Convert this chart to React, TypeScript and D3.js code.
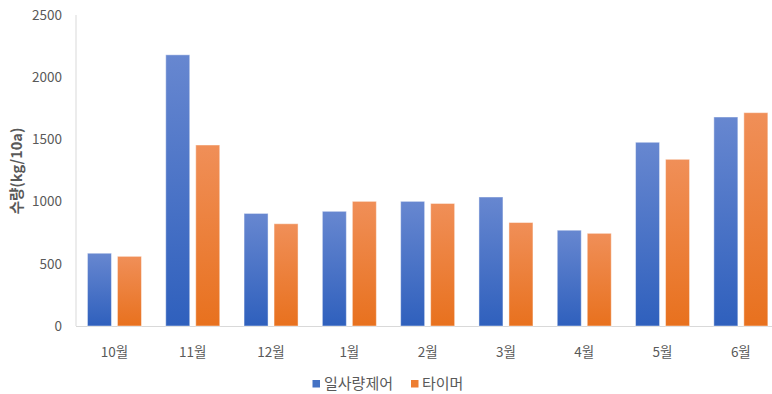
import React from "react";
import * as d3 from "d3";

const categories = ["10월", "11월", "12월", "1월", "2월", "3월", "4월", "5월", "6월"];
const seriesNames = ["일사량제어", "타이머"];
const solarValues = [585, 2180, 905, 922, 1002, 1037, 770, 1477, 1680];
const timerValues = [560, 1455, 822, 1002, 985, 832, 745, 1340, 1715];
const yTicks = [0, 500, 1000, 1500, 2000, 2500];

const W = 772;
const H = 394;
const FONT = "'Noto Sans CJK KR', 'Noto Sans', sans-serif";

export default function App() {
  const x = d3.scaleBand<string>().domain(categories).range([75.3, 780]).paddingInner(0).paddingOuter(0);
  const y = d3.scaleLinear().domain([0, 2500]).range([326, 15]);
  const bw = x.bandwidth();
  const barW = 24;
  const gap = 6;
  const series = [
    { name: seriesNames[0], values: solarValues, grad: "gBlue", color: "#4472c4" },
    { name: seriesNames[1], values: timerValues, grad: "gOrange", color: "#ed7d31" },
  ];
  return (
    <svg width={W} height={H} style={{ position: "absolute", left: 0, top: 0, background: "#fff" }}>
      <defs>
        <linearGradient id="gBlue" x1="0" y1="0" x2="0" y2="1">
          <stop offset="0" stopColor="#6787d0" />
          <stop offset="1" stopColor="#2f60bd" />
        </linearGradient>
        <linearGradient id="gOrange" x1="0" y1="0" x2="0" y2="1">
          <stop offset="0" stopColor="#f08f58" />
          <stop offset="1" stopColor="#e8711e" />
        </linearGradient>
      </defs>
      <line x1={76} x2={76} y1={15} y2={326} stroke="#d9d9d9" />
      <line x1={76} x2={772} y1={326.5} y2={326.5} stroke="#d9d9d9" />
      {yTicks.map((t) => (
        <text key={t} x={62} y={y(t)} dy="0.35em" textAnchor="end" fontSize={13.5} fill="#595959" fontFamily={FONT}>
          {t}
        </text>
      ))}
      <text
        transform={`translate(17,${171}) rotate(-90)`}
        textAnchor="middle"
        dy="0.35em"
        fontSize={14.5}
        fontWeight="bold"
        fill="#595959"
        fontFamily={FONT}
      >
        수량(kg/10a)
      </text>
      {categories.map((c, i) => {
        const cx = (x(c) as number) + bw / 2;
        return (
          <g key={c}>
            {series.map((s, si) => {
              const bx = si === 0 ? cx - gap / 2 - barW : cx + gap / 2;
              const v = s.values[i];
              return (
                <rect
                  key={s.name}
                  x={bx}
                  y={y(v)}
                  width={barW}
                  height={y(0) - y(v)}
                  fill={`url(#${s.grad})`}
                  stroke="#ffffff"
                  strokeOpacity={0.45}
                  strokeWidth={1}
                />
              );
            })}
            <text x={cx} y={352} dy="0.35em" textAnchor="middle" fontSize={13.5} fill="#595959" fontFamily={FONT}>
              {c}
            </text>
          </g>
        );
      })}
      <g>
        <rect x={312.5} y={380} width={7.5} height={7.5} fill={series[0].color} />
        <text x={324} y={384} dy="0.35em" fontSize={15} fill="#595959" fontFamily={FONT}>
          {series[0].name}
        </text>
        <rect x={411} y={380} width={7.5} height={7.5} fill={series[1].color} />
        <text x={422} y={384} dy="0.35em" fontSize={15} fill="#595959" fontFamily={FONT}>
          {series[1].name}
        </text>
      </g>
    </svg>
  );
}
